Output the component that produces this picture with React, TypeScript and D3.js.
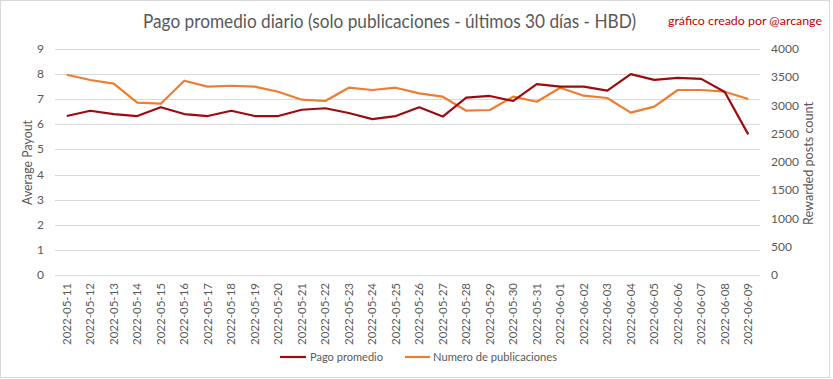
import React from "react";
import * as d3 from "d3";

const dates = [
  "2022-05-11","2022-05-12","2022-05-13","2022-05-14","2022-05-15","2022-05-16","2022-05-17","2022-05-18","2022-05-19","2022-05-20",
  "2022-05-21","2022-05-22","2022-05-23","2022-05-24","2022-05-25","2022-05-26","2022-05-27","2022-05-28","2022-05-29","2022-05-30",
  "2022-05-31","2022-06-01","2022-06-02","2022-06-03","2022-06-04","2022-06-05","2022-06-06","2022-06-07","2022-06-08","2022-06-09",
];
const pagoPromedio = [
  6.33, 6.54, 6.41, 6.33, 6.68, 6.41, 6.33, 6.54, 6.33, 6.33,
  6.58, 6.64, 6.45, 6.21, 6.33, 6.68, 6.31, 7.06, 7.13, 6.93,
  7.6, 7.5, 7.5, 7.34, 8.0, 7.77, 7.85, 7.81, 7.29, 5.6,
];
const numeroPublicaciones = [
  3545, 3451, 3386, 3050, 3032, 3439, 3333, 3350, 3335, 3244,
  3103, 3080, 3315, 3274, 3315, 3215, 3156, 2908, 2920, 3156,
  3067, 3315, 3174, 3133, 2873, 2979, 3274, 3274, 3244, 3115,
];
const leftTicks = [0, 1, 2, 3, 4, 5, 6, 7, 8, 9];
const rightTicks = [0, 500, 1000, 1500, 2000, 2500, 3000, 3500, 4000];

const W = 833, H = 379;
const plot = { left: 55, right: 760, top: 49, bottom: 275 };
const FONT = "Lato, 'Open Sans', sans-serif";
const RED = "#9E0B0F";
const ORANGE = "#ED7D31";
const GRID = "#D9D9D9";
const TEXT = "#595959";

export default function App() {
  const x = d3.scalePoint<string>().domain(dates).range([plot.left, plot.right]).padding(0.5);
  const yL = d3.scaleLinear().domain([0, 9]).range([plot.bottom, plot.top]);
  const yR = d3.scaleLinear().domain([0, 4000]).range([plot.bottom, plot.top]);

  const lineL = d3.line<number>().x((_, i) => x(dates[i])!).y((d) => yL(d));
  const lineR = d3.line<number>().x((_, i) => x(dates[i])!).y((d) => yR(d));

  return (
    <svg width={W} height={H} style={{ position: "absolute", left: 0, top: 0, fontFamily: FONT }}>
      <rect x={0.5} y={0.5} width={829} height={377} fill="#fff" stroke="#D9D9D9" />
      <text x={389.5} y={28} textAnchor="middle" fontSize={18.5} fill={TEXT} textLength={493} lengthAdjust="spacingAndGlyphs">
        Pago promedio diario (solo publicaciones - últimos 30 días - HBD)
      </text>
      <text x={668} y={25} fontSize={12} fill="#C00000" textLength={154} lengthAdjust="spacingAndGlyphs">
        gráfico creado por @arcange
      </text>
      {leftTicks.map((t) => (
        <g key={"l" + t}>
          <line x1={plot.left} x2={plot.right} y1={Math.round(yL(t)) + 0.5} y2={Math.round(yL(t)) + 0.5} stroke={GRID} strokeWidth={1} />
          <text x={44} y={yL(t) + 4} textAnchor="end" fontSize={12} fill={TEXT}>{t}</text>
        </g>
      ))}
      {rightTicks.map((t) => (
        <text key={"r" + t} x={771} y={yR(t) + 4} textAnchor="start" fontSize={12} fill={TEXT}>{t}</text>
      ))}
      <text transform={`translate(32,162.5) rotate(-90)`} textAnchor="middle" fontSize={12.5} fill={TEXT} textLength={85} lengthAdjust="spacingAndGlyphs">Average Payout</text>
      <text transform={`translate(813,163.5) rotate(-90)`} textAnchor="middle" fontSize={12.5} fill={TEXT} textLength={123} lengthAdjust="spacingAndGlyphs">Rewarded posts count</text>
      {dates.map((d) => (
        <text key={d} transform={`translate(${x(d)! + 4},283) rotate(-90)`} textAnchor="end" fontSize={11.5} fill={TEXT} textLength={62} lengthAdjust="spacingAndGlyphs">{d}</text>
      ))}
      <path d={lineR(numeroPublicaciones)!} fill="none" stroke={ORANGE} strokeWidth={2.2} strokeLinejoin="round" />
      <path d={lineL(pagoPromedio)!} fill="none" stroke={RED} strokeWidth={2.2} strokeLinejoin="round" />
      <line x1={280} x2={306} y1={357} y2={357} stroke={RED} strokeWidth={2.2} />
      <text x={310} y={361} fontSize={12} fill={TEXT} textLength={73} lengthAdjust="spacingAndGlyphs">Pago promedio</text>
      <line x1={405} x2={430} y1={357} y2={357} stroke={ORANGE} strokeWidth={2.2} />
      <text x={433} y={361} fontSize={12} fill={TEXT} textLength={124} lengthAdjust="spacingAndGlyphs">Numero de publicaciones</text>
    </svg>
  );
}
